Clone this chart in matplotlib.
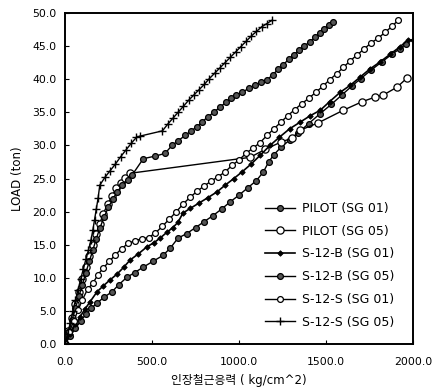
import matplotlib
matplotlib.use("Agg")
import matplotlib.pyplot as plt
from matplotlib.ticker import FormatStrFormatter

plt.rcParams['font.family'] = ['DejaVu Sans', 'Noto Sans CJK KR']

# PILOT (SG 01) - filled circles, lowest of the lower group
pilot01_x = [0, 30, 60, 90, 120, 150, 184, 225, 270, 310, 356, 400, 448, 505, 563, 605,
             649, 700, 750, 800, 850, 900, 950, 1000, 1050, 1100, 1140, 1170, 1200,
             1240, 1290, 1340, 1400, 1466, 1530, 1590, 1650, 1700, 1760, 1820, 1880,
             1925, 1960]
pilot01_y = [0, 1.2, 2.4, 3.5, 4.5, 5.4, 6.2, 7.1, 7.9, 9.0, 10.1, 10.8, 11.6, 12.5,
             13.4, 14.5, 16.0, 16.7, 17.6, 18.5, 19.4, 20.4, 21.5, 22.5, 23.6, 24.7,
             26.0, 27.5, 28.6, 29.7, 30.8, 31.9, 33.3, 34.8, 36.2, 37.6, 39.0, 40.1,
             41.4, 42.6, 43.8, 44.6, 45.3]

# PILOT (SG 05) - open circles, steep start, data gap, then large circles
pilot05_x = [0, 20, 40, 60, 80, 100, 120, 140, 160, 180, 200, 220, 245, 270, 295, 320,
             345, 375, 1063, 1150, 1240, 1305, 1351, 1454, 1598, 1707, 1782, 1828,
             1908, 1966]
pilot05_y = [0, 2.0, 4.0, 6.0, 7.9, 9.8, 11.6, 13.3, 15.0, 16.6, 18.2, 19.7, 21.1, 22.4,
             23.5, 24.4, 25.1, 25.8, 28.2, 29.4, 30.5, 31.1, 32.3, 33.4, 35.3, 36.6,
             37.3, 37.6, 38.8, 40.2]

# S-12-B (SG 01) - small dark markers, middle of the lower group
s12b01_x = [0, 30, 60, 86, 115, 144, 184, 220, 259, 300, 337, 374, 420, 471, 510, 546,
            586, 620, 649, 678, 720, 770, 820, 874, 920, 970, 1017, 1070, 1121, 1178,
            1230, 1290, 1350, 1410, 1466, 1520, 1580, 1640, 1695, 1750, 1810, 1870,
            1925, 1970, 2000]
s12b01_y = [0, 1.6, 3.0, 4.1, 5.3, 6.4, 7.9, 8.8, 9.7, 10.6, 11.6, 12.7, 13.6, 14.7,
            15.3, 16.0, 16.9, 17.6, 18.4, 19.8, 20.5, 21.3, 22.1, 23.0, 24.0, 25.0,
            26.0, 27.2, 28.5, 30.0, 31.2, 32.5, 33.5, 34.5, 35.3, 36.6, 38.0, 39.1,
            40.3, 41.5, 42.6, 43.8, 44.9, 45.9, 45.9]

# S-12-B (SG 05) - filled circles, steep start then upper line
s12b05_x = [0, 20, 40, 60, 80, 100, 120, 140, 160, 180, 200, 225, 250, 275, 300, 330,
            360, 385, 450, 520, 575, 615, 650, 690, 725, 758, 790, 820, 855, 891, 925,
            955, 985, 1017, 1055, 1090, 1125, 1161, 1195, 1225, 1255, 1285, 1315, 1345,
            1375, 1405, 1435, 1465, 1490, 1515, 1540]
s12b05_y = [0, 1.8, 3.6, 5.4, 7.2, 9.0, 10.8, 12.5, 14.2, 15.9, 17.5, 19.2, 20.7, 21.9,
            23.0, 24.0, 24.8, 25.5, 28.0, 28.4, 28.8, 30.0, 30.7, 31.5, 32.2, 32.8, 33.6,
            34.3, 35.0, 35.8, 36.5, 37.1, 37.6, 38.0, 38.6, 39.1, 39.5, 39.9, 40.7, 41.5,
            42.2, 43.0, 43.7, 44.4, 45.0, 45.6, 46.3, 47.0, 47.6, 48.2, 48.7]

# S-12-S (SG 01) - open circles, upper of the lower group
s12s01_x = [0, 25, 50, 75, 100, 130, 160, 190, 220, 255, 290, 325, 362, 400, 440, 480,
            520, 560, 600, 640, 680, 720, 760, 800, 840, 880, 920, 960, 1000, 1040,
            1080, 1120, 1160, 1200, 1240, 1280, 1320, 1360, 1400, 1440, 1480, 1520,
            1560, 1600, 1640, 1680, 1720, 1760, 1800, 1840, 1880, 1914]
s12s01_y = [0, 1.8, 3.5, 5.1, 6.7, 8.3, 9.2, 10.5, 11.5, 12.5, 13.5, 14.4, 15.2, 15.6,
            15.9, 16.1, 16.8, 17.8, 18.9, 20.0, 21.2, 22.2, 23.1, 23.9, 24.6, 25.3, 26.0,
            27.0, 27.8, 28.8, 29.6, 30.4, 31.5, 32.5, 33.5, 34.5, 35.4, 36.3, 37.1, 38.0,
            38.9, 39.9, 40.8, 41.8, 42.8, 43.7, 44.6, 45.5, 46.2, 47.1, 48.0, 48.9]

# S-12-S (SG 05) - '+' markers, steepest
s12s05_x = [0, 15, 30, 45, 60, 75, 90, 105, 120, 135, 150, 160, 170, 180, 190, 200, 230,
            260, 290, 320, 350, 380, 410, 430, 560, 590, 620, 650, 680, 710, 740, 770,
            800, 830, 860, 890, 920, 950, 980, 1010, 1040, 1070, 1100, 1130, 1160, 1190]
s12s05_y = [0, 1.5, 3.2, 5.0, 6.6, 8.2, 9.8, 11.3, 12.8, 14.2, 15.8, 17.2, 18.8, 20.4,
            22.0, 24.0, 25.2, 26.2, 27.2, 28.3, 29.3, 30.3, 31.2, 31.4, 32.2, 33.2, 34.1,
            35.0, 35.9, 36.8, 37.6, 38.4, 39.2, 40.1, 40.9, 41.7, 42.5, 43.3, 44.1, 44.9,
            45.7, 46.5, 47.2, 47.9, 48.4, 48.9]

labels = ["PILOT (SG 01)", "PILOT (SG 05)", "S-12-B (SG 01)",
          "S-12-B (SG 05)", "S-12-S (SG 01)", "S-12-S (SG 05)"]

fig = plt.figure(figsize=(4.39, 3.92), dpi=100)
ax = fig.add_axes([0.148, 0.122, 0.793, 0.845])

ax.plot(pilot01_x, pilot01_y, color="black", lw=1.0, marker="o", ms=4.2,
        mfc="#555555", mec="black", mew=0.9, label=labels[0])
ax.plot(pilot05_x, pilot05_y, color="black", lw=1.0, marker="o", ms=5.2,
        mfc="white", mec="black", mew=0.9, label=labels[1])
ax.plot(s12b01_x, s12b01_y, color="black", lw=1.2, marker="D", ms=2.8,
        mfc="black", mec="black", mew=0.6, label=labels[2])
ax.plot(s12b05_x, s12b05_y, color="black", lw=1.0, marker="o", ms=4.2,
        mfc="#555555", mec="black", mew=0.9, label=labels[3])
ax.plot(s12s01_x, s12s01_y, color="black", lw=1.0, marker="o", ms=4.2,
        mfc="white", mec="black", mew=0.9, label=labels[4])
ax.plot(s12s05_x, s12s05_y, color="black", lw=1.0, marker="+", ms=6,
        mec="black", mew=1.0, label=labels[5])

ax.set_xlim(0, 2000)
ax.set_ylim(0, 50)
ax.set_xticks([0, 500, 1000, 1500, 2000])
ax.set_yticks(range(0, 51, 5))
ax.xaxis.set_major_formatter(FormatStrFormatter("%.1f"))
ax.yaxis.set_major_formatter(FormatStrFormatter("%.1f"))
ax.tick_params(direction="in", length=3, width=0.8, labelsize=7.8)
ax.tick_params(axis="x", pad=9)
ax.tick_params(axis="y", pad=6)
for s in ax.spines.values():
    s.set_linewidth(1.4)

ax.set_xlabel("인장철근응력 ( kg/cm^2)", fontsize=8.5, labelpad=5)
ax.set_ylabel("LOAD (ton)", fontsize=8.5, labelpad=6)

ax.legend(loc="lower right", bbox_to_anchor=(0.965, 0.028), frameon=False,
          borderpad=0, fontsize=9, handlelength=2.4, handletextpad=0.55,
          labelspacing=0.78)

fig.savefig("out.png", dpi=100)
